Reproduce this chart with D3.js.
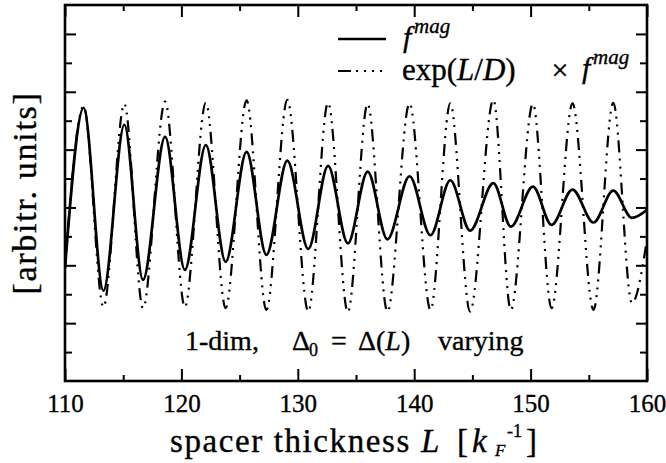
<!DOCTYPE html>
<html>
<head>
<meta charset="utf-8">
<script src="https://cdn.jsdelivr.net/npm/d3@7"></script>
<style>
  html, body { margin: 0; padding: 0; background: #fff; }
  svg { display: block; }
  text { font-family: "Liberation Serif", "Times New Roman", serif; fill: #000; stroke: #000; stroke-width: 0.35px; }
</style>
</head>
<body>
<svg id="chart" width="666" height="463"></svg>
<script>
// Spacer thickness L (in units of 1/k_F) at the start, at each extremum, and at the end
const thickness = [110, 111.6, 113.3, 115.1, 116.7, 118.6, 120.3, 122.1, 123.8, 125.6,
  127.3, 129.1, 130.9, 132.6, 134.3, 136.0, 137.7, 139.6, 141.4, 143.1,
  144.8, 146.8, 148.3, 150.2, 151.8, 153.6, 155.4, 157.1, 158.7, 160];

// f^mag (arbitrary units)
const fMag = [1.95, 4.72, 1.56, 4.43, 1.75, 4.22, 1.92, 4.08, 2.06, 3.96,
  2.18, 3.81, 2.28, 3.72, 2.38, 3.62, 2.45, 3.54, 2.52, 3.47,
  2.60, 3.42, 2.67, 3.36, 2.70, 3.31, 2.74, 3.29, 2.82, 2.96];

// exp(L/D) x f^mag (arbitrary units)
const fMagScaled = [1.95, 4.75, 1.28, 4.79, 1.26, 4.83, 1.28, 4.81, 1.26, 4.85,
  1.23, 4.86, 1.20, 4.81, 1.19, 4.79, 1.20, 4.80, 1.23, 4.80,
  1.20, 4.86, 1.23, 4.79, 1.26, 4.80, 1.23, 4.81, 1.35, 2.45];

const xMajorTicks = [110, 120, 130, 140, 150, 160];
const xMinorTicks = [115, 125, 135, 145, 155];
const yMajorTicks = [1, 2, 3, 4, 5, 6];
const yMinorTicks = [0.5, 1.5, 2.5, 3.5, 4.5, 5.5];

const svg = d3.select("#chart");
const margin = { left: 65, right: 19, top: 5, bottom: 82 };
const W = 666, H = 463;
const x0 = margin.left, x1 = W - margin.right, y0 = margin.top, y1 = H - margin.bottom;

const x = d3.scaleLinear().domain([110, 160]).range([x0, x1]);
const y = d3.scaleLinear().domain([0, 6.5]).range([y1, y0]);

// clip for the curves
svg.append("defs").append("clipPath").attr("id", "plotClip")
  .append("rect").attr("x", x0).attr("y", y0).attr("width", x1 - x0).attr("height", y1 - y0);

// ticks pointing inward on all four sides
function tickAxis(axis, pos, size, values) {
  const g = svg.append("g").attr("transform", pos)
    .call(axis.tickValues(values).tickSize(size).tickFormat(""));
  g.select(".domain").remove();
  g.selectAll(".tick line").attr("stroke", "#000").attr("stroke-width", 2);
  return g;
}
tickAxis(d3.axisBottom(x), `translate(0,${y1})`, -12, xMajorTicks);
tickAxis(d3.axisBottom(x), `translate(0,${y1})`, -6, xMinorTicks);
tickAxis(d3.axisTop(x), `translate(0,${y0})`, -12, xMajorTicks);
tickAxis(d3.axisTop(x), `translate(0,${y0})`, -6, xMinorTicks);
tickAxis(d3.axisLeft(y), `translate(${x0},0)`, -11, yMajorTicks);
tickAxis(d3.axisLeft(y), `translate(${x0},0)`, -7, yMinorTicks);
tickAxis(d3.axisRight(y), `translate(${x1},0)`, -11, yMajorTicks);
tickAxis(d3.axisRight(y), `translate(${x1},0)`, -7, yMinorTicks);

// x tick labels
const xLab = svg.append("g").attr("transform", `translate(0,${y1})`)
  .call(d3.axisBottom(x).tickValues(xMajorTicks).tickSize(0).tickPadding(13).tickFormat(d3.format("d")));
xLab.select(".domain").remove();
xLab.selectAll("text").attr("font-size", 25).attr("fill", "#000");

// curves
const line = (vals) => d3.line()
  .x((d, i) => x(thickness[i]))
  .y(d => y(d))
  .curve(d3.curveMonotoneX)(vals);

const curves = svg.append("g").attr("clip-path", "url(#plotClip)");
const dashDot = "12 6 2 6 2 6 2 6";
curves.append("path").attr("d", line(fMagScaled))
  .attr("fill", "none").attr("stroke", "#000").attr("stroke-width", 2.2)
  .attr("stroke-dasharray", dashDot);
curves.append("path").attr("d", line(fMag))
  .attr("fill", "none").attr("stroke", "#000").attr("stroke-width", 2.7)
  .attr("stroke-linejoin", "round");

// frame
svg.append("rect").attr("x", x0).attr("y", y0).attr("width", x1 - x0).attr("height", y1 - y0)
  .attr("fill", "none").attr("stroke", "#000").attr("stroke-width", 2.6);

// legend
const leg = svg.append("g");
leg.append("line").attr("x1", 338).attr("x2", 386).attr("y1", 39).attr("y2", 39)
  .attr("stroke", "#000").attr("stroke-width", 2.4);
leg.append("line").attr("x1", 338).attr("x2", 386).attr("y1", 71).attr("y2", 71)
  .attr("stroke", "#000").attr("stroke-width", 2).attr("stroke-dasharray", "13 5 2 6 2 6 2 6 2 6");
leg.append("text").attr("x", 403).attr("y", 47).attr("font-size", 30).attr("font-style", "italic").text("f");
leg.append("text").attr("x", 414).attr("y", 33).attr("font-size", 21).attr("font-style", "italic").text("mag");
const exp = leg.append("text").attr("x", 402).attr("y", 80).attr("font-size", 31);
exp.append("tspan").text("exp(");
exp.append("tspan").attr("font-style", "italic").text("L");
exp.append("tspan").text("/");
exp.append("tspan").attr("font-style", "italic").text("D");
exp.append("tspan").text(")");
leg.append("text").attr("x", 560).attr("y", 80).attr("font-size", 30).attr("text-anchor", "middle").text("×");
leg.append("text").attr("x", 582).attr("y", 78).attr("font-size", 30).attr("font-style", "italic").text("f");
leg.append("text").attr("x", 593).attr("y", 64).attr("font-size", 21).attr("font-style", "italic").text("mag");

// annotation
const ann = svg.append("g").attr("font-size", 28);
ann.append("text").attr("x", 185).attr("y", 350).text("1-dim,");
ann.append("text").attr("x", 292).attr("y", 350).text("Δ");
ann.append("text").attr("x", 309).attr("y", 356).attr("font-size", 18).text("0");
ann.append("text").attr("x", 331).attr("y", 350).text("=");
const dl = ann.append("text").attr("x", 358).attr("y", 350);
dl.append("tspan").text("Δ(");
dl.append("tspan").attr("font-style", "italic").text("L");
dl.append("tspan").text(")");
ann.append("text").attr("x", 438).attr("y", 350).text("varying");

// x axis title
const xt = svg.append("g").attr("font-size", 33);
xt.append("text").attr("x", 170).attr("y", 452).attr("letter-spacing", 1.6).text("spacer thickness");
xt.append("text").attr("x", 421).attr("y", 452).attr("font-style", "italic").text("L");
xt.append("text").attr("x", 457).attr("y", 452).text("[");
xt.append("text").attr("x", 472).attr("y", 452).attr("font-style", "italic").text("k");
xt.append("text").attr("x", 495).attr("y", 456).attr("font-size", 17).attr("font-style", "italic").text("F");
xt.append("text").attr("x", 507).attr("y", 437).attr("font-size", 18).text("-1");
xt.append("text").attr("x", 526).attr("y", 452).text("]");

// y axis title
svg.append("text").attr("transform", "translate(36,193) rotate(-90)")
  .attr("text-anchor", "middle").attr("font-size", 34).attr("letter-spacing", 1.7)
  .text("[arbitr. units]");
</script>
</body>
</html>
